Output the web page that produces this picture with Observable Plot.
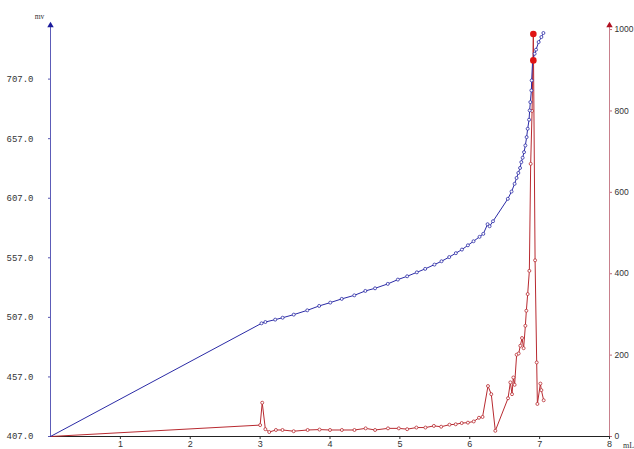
<!DOCTYPE html>
<html>
<head>
<meta charset="utf-8">
<script src="https://cdn.jsdelivr.net/npm/d3@7"></script>
<script src="https://cdn.jsdelivr.net/npm/@observablehq/plot@0.6"></script>
<style>
  html, body { margin: 0; padding: 0; background: #fff; }
  #chart svg { display: block; }
</style>
</head>
<body>
<div id="chart"></div>
<script>
// Titration curve: potential (mV) vs titrant volume (mL)
const blueVolume = [0, 3.02, 3.075, 3.216, 3.322, 3.481, 3.675, 3.845, 4.004, 4.168, 4.348, 4.506, 4.645, 4.827, 4.971, 5.104, 5.243, 5.362, 5.495, 5.596, 5.706, 5.801, 5.888, 5.974, 6.054, 6.140, 6.194, 6.255, 6.284, 6.333, 6.545, 6.598, 6.642, 6.670, 6.695, 6.720, 6.738, 6.757, 6.777, 6.796, 6.814, 6.829, 6.849, 6.857, 6.867, 6.882, 6.886, 6.900, 6.929, 6.949, 6.986, 7.025, 7.054];
const bluePotential = [407, 502.0, 503.1, 505.1, 506.7, 509.3, 512.9, 516.6, 519.4, 522.5, 525.5, 529.2, 531.4, 535.1, 538.7, 541.5, 544.8, 547.7, 551.3, 554.1, 557.6, 560.9, 563.9, 567.5, 570.9, 574.6, 577.1, 585.2, 583.5, 587.7, 606.5, 612.6, 619.1, 624.0, 628.2, 632.4, 637.3, 641.0, 645.7, 651.3, 658.3, 665.3, 672.9, 680.7, 687.7, 697.5, 705.9, 722.7, 728.3, 731.7, 738.1, 742.3, 745.7];

// First derivative (right axis)
const redVolume = [0, 3.0, 3.03, 3.075, 3.13, 3.226, 3.32, 3.48, 3.68, 3.85, 4.0, 4.17, 4.35, 4.51, 4.645, 4.83, 4.985, 5.104, 5.237, 5.366, 5.487, 5.591, 5.71, 5.799, 5.885, 5.974, 6.057, 6.132, 6.183, 6.261, 6.308, 6.366, 6.548, 6.581, 6.605, 6.624, 6.642, 6.671, 6.70, 6.724, 6.748, 6.771, 6.796, 6.81, 6.829, 6.853, 6.872, 6.892, 6.91, 6.935, 6.958, 6.968, 7.011, 7.025, 7.058];
const redValue = [0, 28, 83, 18, 11, 16, 16, 13, 16, 17, 16, 16, 16, 20, 16, 20, 20, 18, 22, 22, 26, 24, 29, 30, 33, 34, 37, 46, 48, 124, 104, 14, 94, 133, 104, 145, 127, 201, 204, 223, 242, 217, 272, 309, 350, 407, 670, 800, 989, 433, 182, 80, 130, 114, 89];

// Equivalence point markers
const endpointVolume = 6.91;
const endpointPotential = 722.7;
const endpointDerivative = 989;

// Tick labels
const xTicks = [1, 2, 3, 4, 5, 6, 7, 8];
const leftTicks = [407, 457, 507, 557, 607, 657, 707];
const rightTicks = [0, 200, 400, 600, 800, 1000];

const MV0 = 407, MVTOP = 752, RTOP = 1010;
const toMV = v => MV0 + v * (MVTOP - MV0) / RTOP;
const fromMV = m => Math.round((m - MV0) * RTOP / (MVTOP - MV0));

const n1 = Math.min(blueVolume.length, bluePotential.length);
const blue = d3.range(n1).map(i => ({x: blueVolume[i], y: bluePotential[i]}));
const n2 = Math.min(redVolume.length, redValue.length);
const red = d3.range(n2).map(i => ({x: redVolume[i], y: toMV(redValue[i])}));

const BLUE = "#2b2ba6";
const RED = "#b82a30";
const textColor = "#333";

const plot = Plot.plot({
  width: 634,
  height: 449,
  marginLeft: 50,
  marginRight: 25,
  marginTop: 25,
  marginBottom: 13,
  x: {domain: [0, 8]},
  y: {domain: [MV0, MVTOP]},
  style: {background: "#fff", overflow: "visible"},
  marks: [
    Plot.axisX(xTicks, {anchor: "bottom", tickSize: 3, tickPadding: 1, fontSize: 9, fontFamily: "Liberation Sans", fill: textColor, stroke: "#333", label: null}),
    Plot.axisY(leftTicks, {anchor: "left", tickSize: 2, tickPadding: 15, tickFormat: d => d.toFixed(1), fontSize: 9, fontFamily: "Liberation Mono", fill: textColor, stroke: "#5555b0", label: null}),
    Plot.axisY(rightTicks.map(toMV), {anchor: "right", tickSize: 2, tickPadding: 3, tickFormat: d => String(fromMV(d)), fontSize: 8.5, fontFamily: "Liberation Sans", fill: textColor, stroke: "#c06a78", label: null}),
    Plot.ruleY([MV0], {stroke: "#222", strokeWidth: 1}),
    Plot.ruleX([0], {stroke: "#5c5cb8", strokeWidth: 1}),
    Plot.ruleX([8], {stroke: "#c8808c", strokeWidth: 1}),
    Plot.dot([{x: 0, y: MVTOP}], {x: "x", y: "y", symbol: "triangle", r: 2.4, fill: "#1c1c9c", stroke: null}),
    Plot.dot([{x: 8, y: MVTOP}], {x: "x", y: "y", symbol: "triangle", r: 2.4, fill: "#b01020", stroke: null}),
    Plot.line(red, {x: "x", y: "y", stroke: RED, strokeWidth: 1}),
    Plot.dot(red.slice(1), {x: "x", y: "y", r: 1.5, stroke: RED, fill: "#fff", strokeWidth: 0.8}),
    Plot.line(blue, {x: "x", y: "y", stroke: BLUE, strokeWidth: 1}),
    Plot.dot(blue.slice(1), {x: "x", y: "y", r: 1.5, stroke: BLUE, fill: "#fff", strokeWidth: 0.8}),
    Plot.dot([{x: endpointVolume, y: toMV(endpointDerivative)}, {x: endpointVolume, y: endpointPotential}], {x: "x", y: "y", r: 3.3, fill: "#e01414", stroke: null}),
    Plot.text(["mv"], {x: 0, y: MVTOP, dx: -11, dy: -9, fontSize: 7.5, fontFamily: "Liberation Serif", fill: textColor}),
    Plot.text(["mL"], {x: 8, y: MV0, dx: 19, dy: 9, fontSize: 8, fontFamily: "Liberation Serif", fill: textColor})
  ]
});

document.getElementById("chart").appendChild(plot);
</script>
</body>
</html>
